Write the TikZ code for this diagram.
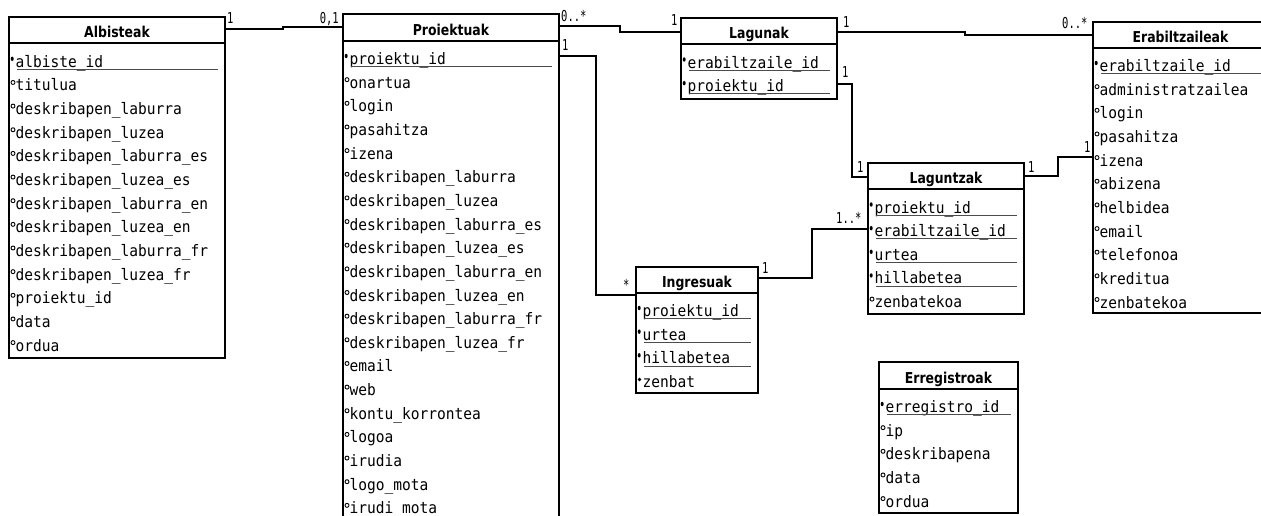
\documentclass[tikz,border=0pt]{standalone}
\usepackage{fontspec}
\setmainfont{DejaVu Sans}
\setmonofont{DejaVu Sans Mono}

% #1 name, #2 left, #3 right, #4 top, #5 header rule, #6 bottom,
% #7 first baseline, #8 title, #9 rows (kind/text; 1 = key, 2 = required, 0 = plain)
\newcommand\erdtable[9]{%
  \pgfmathsetmacro\tblw{#3-#2}%
  \pgfmathsetmacro\tblh{#6-#4}%
  \node[tblframe, minimum width=\tblw pt, minimum height=\tblh pt, anchor=north west] (#1) at (#2,#4) {};
  \draw[tblline] (#2,#5) -- (#3,#5);
  \pgfmathsetmacro\tbly{#5-6}%
  \node[tbltitle, anchor=base] (#1-title) at ({(#2+#3)/2},\tbly) {\scalebox{0.83}[1]{#8}};
  \foreach \kind/\txt [count=\i from 0] in {#9} {
    \pgfmathsetmacro\by{#7+23.65*\i}
    \node[attr, anchor=base west] (#1-\i) at (#2+6.5,\by) {\scalebox{0.92}[1]{\txt}};
    \ifnum\kind=1
      \fill (#2+3.2,\by-8.5) ellipse (1.5 and 2.2);
      \draw[keyline] (#2+8,\by+2.2) -- (#3-7,\by+2.2);
    \else
      \ifnum\kind=2
        \fill (#2+3.5,\by-8) circle (1.8);
      \else
        \draw[line width=0.9pt] (#2+4,\by-8.5) circle (2);
      \fi
    \fi
  }
}

\begin{document}
\begin{tikzpicture}[x=1pt,y=-1pt,
  tblframe/.style={draw=black, line width=2.2pt, inner sep=0pt, outer sep=0pt, fill=white},
  tblline/.style={line width=2.2pt},
  tbltitle/.style={font=\fontsize{15}{16}\selectfont\bfseries, inner sep=0pt},
  attr/.style={font=\fontsize{15.8}{16}\selectfont\ttfamily, inner sep=0pt},
  keyline/.style={draw=black!70, line width=1pt},
  conn/.style={line width=2.2pt, line join=miter},
  card/.style={font=\fontsize{15}{15}\selectfont\ttfamily, inner sep=0pt},
]
\useasboundingbox (0,0) rectangle (1261,515);
\clip (0,0) rectangle (1261,515);
\fill[white] (0,0) rectangle (1261,515);

% entity tables
\erdtable{albisteak}{9}{225}{17}{43}{358}{67.3}{Albisteak}{1/albiste\_id, 0/titulua, 0/deskribapen\_laburra, 0/deskribapen\_luzea, 0/deskribapen\_laburra\_es, 0/deskribapen\_luzea\_es, 0/deskribapen\_laburra\_en, 0/deskribapen\_luzea\_en, 0/deskribapen\_laburra\_fr, 0/deskribapen\_luzea\_fr, 0/proiektu\_id, 0/data, 0/ordua}

\erdtable{proiektuak}{343}{559}{14}{41}{535}{64.5}{Proiektuak}{1/proiektu\_id, 0/onartua, 0/login, 0/pasahitza, 0/izena, 0/deskribapen\_laburra, 0/deskribapen\_luzea, 0/deskribapen\_laburra\_es, 0/deskribapen\_luzea\_es, 0/deskribapen\_laburra\_en, 0/deskribapen\_luzea\_en, 0/deskribapen\_laburra\_fr, 0/deskribapen\_luzea\_fr, 0/email, 0/web, 0/kontu\_korrontea, 0/logoa, 0/irudia, 0/logo\_mota, 0/irudi\_mota}

\erdtable{lagunak}{681}{837}{18}{44}{99}{68}{Lagunak}{1/erabiltzaile\_id, 1/proiektu\_id}

\erdtable{erabiltzaileak}{1093}{1268}{22}{48}{313}{71.5}{Erabiltzaileak}{1/erabiltzaile\_id, 0/administratzailea, 0/login, 0/pasahitza, 0/izena, 0/abizena, 0/helbidea, 0/email, 0/telefonoa, 0/kreditua, 0/zenbatekoa}

\erdtable{laguntzak}{868}{1024}{163}{189}{314}{213}{Laguntzak}{1/proiektu\_id, 1/erabiltzaile\_id, 1/urtea, 1/hillabetea, 0/zenbatekoa}

\erdtable{ingresuak}{636}{758}{267}{293}{393}{316.5}{Ingresuak}{1/proiektu\_id, 1/urtea, 1/hillabetea, 2/zenbat}

\erdtable{erregistroak}{879}{1018}{362}{389}{513}{412.5}{Erregistroak}{1/erregistro\_id, 0/ip, 0/deskribapena, 0/data, 0/ordua}

% bend points of the relationship lines
\coordinate (a1) at (283,29);   \coordinate (a2) at (283,27);
\coordinate (b1) at (620,26);   \coordinate (b2) at (620,32);
\coordinate (c1) at (965,32);   \coordinate (c2) at (965,35);
\coordinate (d1) at (852,84);   \coordinate (d2) at (852,177);
\coordinate (e1) at (1058,176); \coordinate (e2) at (1058,157);
\coordinate (f1) at (596,56);   \coordinate (f2) at (596,295);
\coordinate (g1) at (812,278);  \coordinate (g2) at (812,229);

% relationships
\draw[conn] (albisteak.east |- a1) -- (a1) -- (a2) -- (proiektuak.west |- a2);
\draw[conn] (proiektuak.east |- b1) -- (b1) -- (b2) -- (lagunak.west |- b2);
\draw[conn] (lagunak.east |- c1) -- (c1) -- (c2) -- (erabiltzaileak.west |- c2);
\draw[conn] (lagunak.east |- d1) -- (d1) -- (d2) -- (laguntzak.west |- d2);
\draw[conn] (laguntzak.east |- e1) -- (e1) -- (e2) -- (erabiltzaileak.west |- e2);
\draw[conn] (proiektuak.east |- f1) -- (f1) -- (f2) -- (ingresuak.west |- f2);
\draw[conn] (ingresuak.east |- g1) -- (g1) -- (g2) -- (laguntzak.west |- g2);

% multiplicities
\node[card, anchor=base west] (m1) at (227,23) {\scalebox{0.7}[1]{1}};
\node[card, anchor=base east] (m2) at (339,23) {\scalebox{0.7}[1]{0,1}};
\node[card, anchor=base west] (m3) at (561,21) {\scalebox{0.7}[1]{0..*}};
\node[card, anchor=base west] (m4) at (671,25) {\scalebox{0.7}[1]{1}};
\node[card, anchor=base west] (m5) at (562,50) {\scalebox{0.7}[1]{1}};
\node[card, anchor=base west] (m6) at (623,290) {\scalebox{0.7}[1]{*}};
\node[card, anchor=base west] (m7) at (843,27) {\scalebox{0.7}[1]{1}};
\node[card, anchor=base west] (m8) at (1062,28) {\scalebox{0.7}[1]{0..*}};
\node[card, anchor=base west] (m9) at (842,77) {\scalebox{0.7}[1]{1}};
\node[card, anchor=base west] (m10) at (857,172) {\scalebox{0.7}[1]{1}};
\node[card, anchor=base west] (m11) at (1028,172) {\scalebox{0.7}[1]{1}};
\node[card, anchor=base west] (m12) at (1084,152) {\scalebox{0.7}[1]{1}};
\node[card, anchor=base west] (m13) at (762,273) {\scalebox{0.7}[1]{1}};
\node[card, anchor=base west] (m14) at (836,223) {\scalebox{0.7}[1]{1..*}};
\end{tikzpicture}
\end{document}
